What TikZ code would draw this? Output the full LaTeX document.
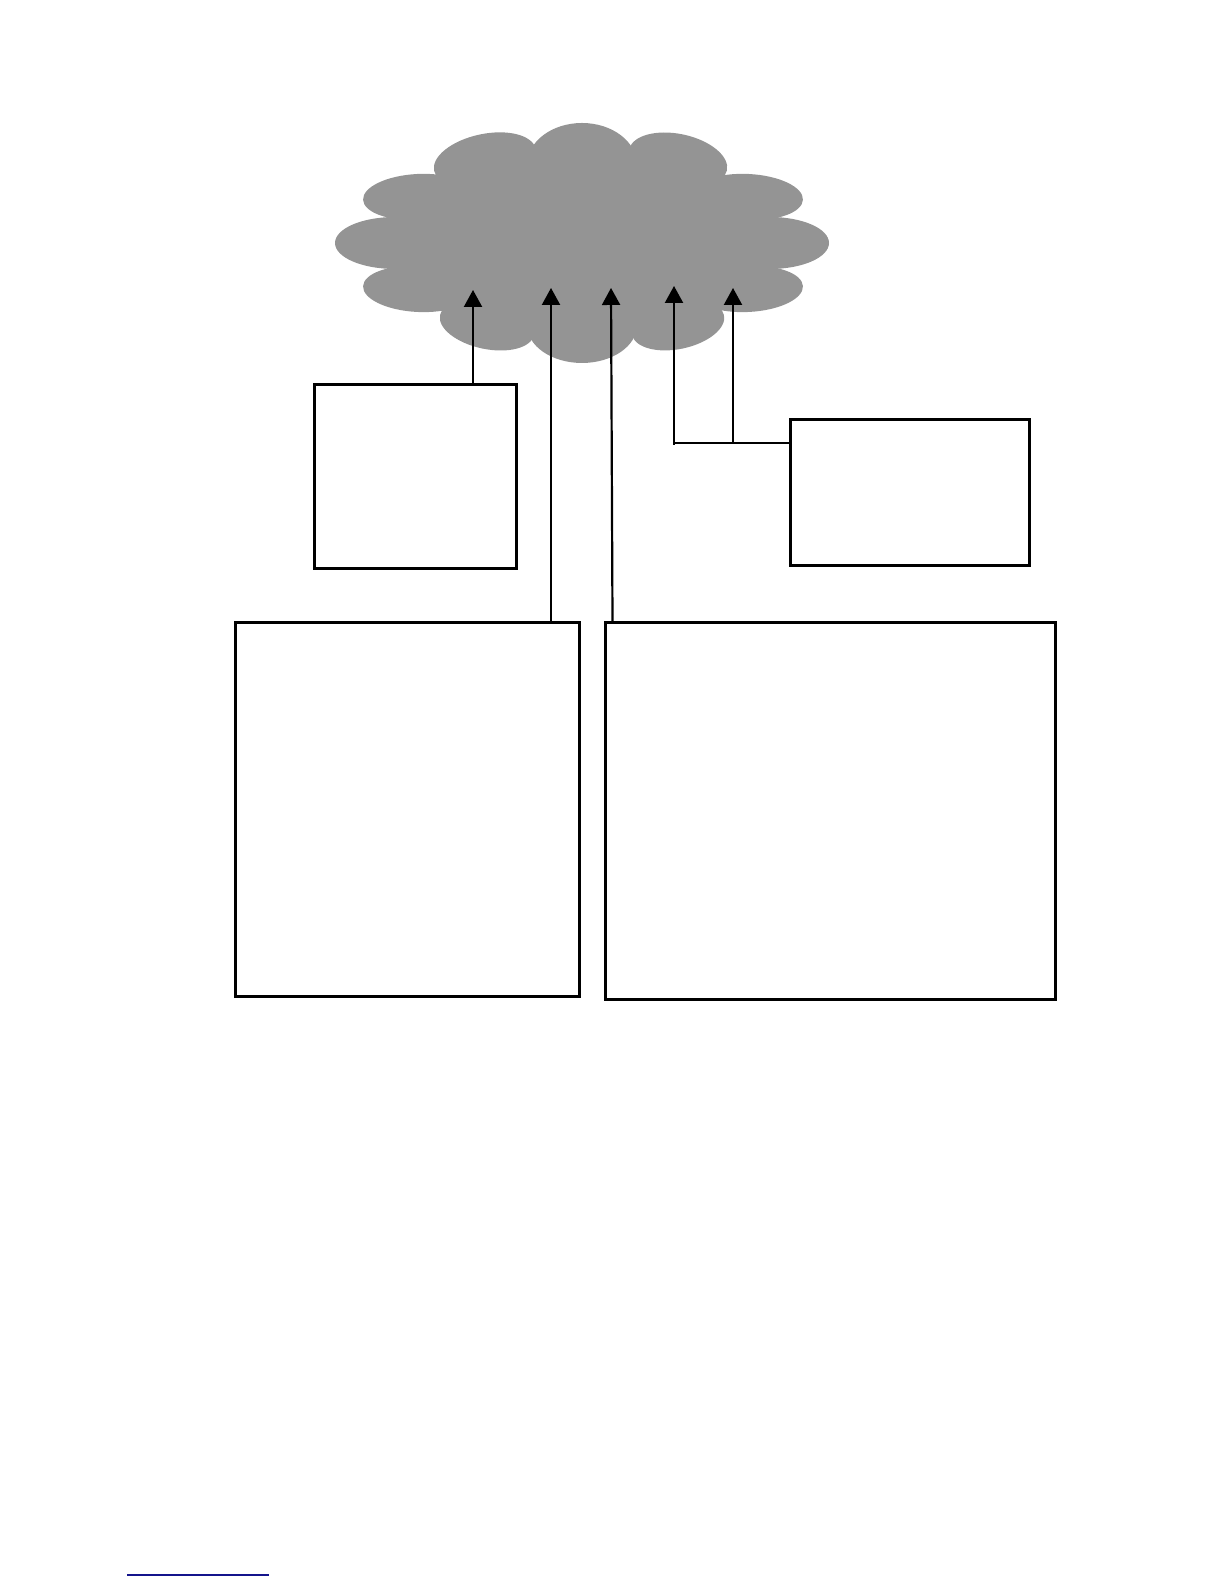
\documentclass[tikz,border=0pt]{standalone}
\usepackage{tikz}
\usetikzlibrary{arrows.meta,positioning}
\definecolor{cloudgray}{RGB}{148,148,148}
\definecolor{rulenavy}{RGB}{20,20,140}
\tikzstyle{box}=[draw,line width=1.5pt,rectangle,inner sep=0pt]
\tikzstyle{feed}=[line width=1.1pt,-{Triangle[width=9pt,length=8.5pt]}]
\tikzstyle{link}=[line width=1.1pt]

\begin{document}
\begin{tikzpicture}[x=0.5pt,y=0.5pt]
\useasboundingbox (0,0) rectangle (1224,1584);
\foreach \cx/\cy/\rx/\ry/\r in {582/1341/200/90/0, 582/1419/55/42/0,
  485/1424/52/26/12, 678/1424/50/26/-12, 418/1387/55/23/3, 748/1387/55/23/-3,
  395/1341/60/26/0, 770/1341/59/26/0, 418/1295/55/23/-3, 748/1295/55/23/3,
  487/1259/48/24/-12, 678/1259/47/24/12, 582/1259/55/38/0}
  \fill[cloudgray,rotate around={\r:(\cx,\cy)}] (\cx,\cy) ellipse [x radius=\rx, y radius=\ry];
\coordinate (t1) at (473,1294);
\coordinate (t2) at (551,1296);
\coordinate (t3) at (611,1296);
\coordinate (t4) at (674,1298);
\coordinate (t5) at (733,1296);
\node [box,minimum width=101pt,minimum height=92pt] (A) at (415,1107) {};
\node [box,minimum width=119.5pt,minimum height=73pt] (B) at (909.5,1091) {};
\node [box,minimum width=172pt,minimum height=187pt] (C) at (407,774) {};
\node [box,minimum width=225pt,minimum height=188.5pt] (D) at (830,772.5) {};
\coordinate (j4) at (674,1141);
\coordinate (j5) at (733,1141);
\draw [feed] (A.north -| t1) -- (t1);
\draw [feed] (C.north -| t2) -- (t2);
\draw [feed] ([xshift=4.5pt]D.north west) -- (t3);
\draw [link] (B.west |- j4) -- (j4);
\draw [feed] ([yshift=-1pt]j4) -- (t4);
\draw [feed] (j5) -- (t5);
\draw [line width=0.85pt,rulenavy] (127,9) -- (269,9);
\end{tikzpicture}
\end{document}
